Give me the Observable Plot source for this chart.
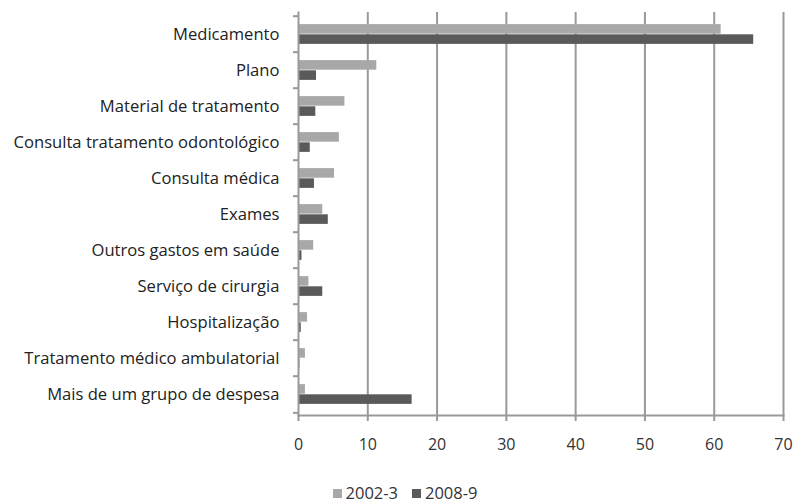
<!DOCTYPE html>
<html>
<head>
<meta charset="utf-8">
<script src="https://cdn.jsdelivr.net/npm/d3@7"></script>
<script src="https://cdn.jsdelivr.net/npm/@observablehq/plot@0.6"></script>
<style>
  html, body { margin: 0; padding: 0; background: #fff; }
  body { width: 795px; height: 504px; overflow: hidden; font-family: "Open Sans", sans-serif; }
  #chart svg { display: block; }
  #legend { position: absolute; left: 0; top: 482px; width: 810px; text-align: center; font-size: 16.5px; line-height: 22px; color: #333; }
  #legend span.item { margin: 0 7px; }
  #legend span.sw { display: inline-block; width: 9px; height: 9px; margin-right: 4px; vertical-align: 1px; }
</style>
</head>
<body>
<div id="chart"></div>
<div id="legend"></div>
<script>
const categories = [
  "Medicamento",
  "Plano",
  "Material de tratamento",
  "Consulta tratamento odontológico",
  "Consulta médica",
  "Exames",
  "Outros gastos em saúde",
  "Serviço de cirurgia",
  "Hospitalização",
  "Tratamento médico ambulatorial",
  "Mais de um grupo de despesa"
];
const series = ["2002-3", "2008-9"];
const values2002 = [61.0, 11.3, 6.7, 5.9, 5.2, 3.5, 2.2, 1.5, 1.3, 1.0, 1.0];
const values2008 = [65.7, 2.6, 2.5, 1.7, 2.3, 4.3, 0.5, 3.5, 0.4, 0.2, 16.4];
const xTicks = [0, 10, 20, 30, 40, 50, 60, 70];
const colors = ["#a8a8a8", "#5a5a5a"];

const d2002 = categories.map((c, i) => ({cat: c, serie: series[0], value: values2002[i]}));
const d2008 = categories.map((c, i) => ({cat: c, serie: series[1], value: values2008[i]}));

const H = 460, mt = 12, mb = 45;
const band = (H - mt - mb) / categories.length;
const barH = 10.2;

const chart = Plot.plot({
  width: 795,
  height: H,
  marginLeft: 298,
  marginRight: 12,
  marginTop: mt,
  marginBottom: mb,
  style: {fontFamily: "'Open Sans', sans-serif", fontSize: "16.6px", color: "#333", background: "#fff"},
  x: {domain: [0, 70], ticks: xTicks},
  y: {domain: categories, padding: 0},
  marks: [
    Plot.gridX(xTicks.slice(1), {stroke: "#999", strokeWidth: 2, strokeOpacity: 1}),
    Plot.barX(d2002, {x: "value", y: "cat", fill: colors[0], insetTop: band/2 - barH, insetBottom: band/2}),
    Plot.barX(d2008, {x: "value", y: "cat", fill: colors[1], insetTop: band/2, insetBottom: band/2 - barH}),
    Plot.frame({anchor: "bottom", stroke: "#999", strokeWidth: 2}),
    Plot.frame({anchor: "left", stroke: "#999", strokeWidth: 2}),
    Plot.axisX({ticks: xTicks, tickSize: 6, tickPadding: 17, stroke: "#999", strokeWidth: 2, fill: "#333", fontSize: 16, label: null}),
    Plot.axisY({tickSize: 0, tickPadding: 19, fill: "#222", fontSize: 16.6, label: null}),
    Plot.axisY({ticks: categories, tickSize: 5, tickFormat: () => "", stroke: "#999", strokeWidth: 2, dy: -band/2, label: null}),
    Plot.axisY({ticks: categories.slice(-1), tickSize: 5, tickFormat: () => "", stroke: "#999", strokeWidth: 2, dy: band/2, label: null})
  ]
});
document.getElementById("chart").appendChild(chart);

const legend = document.getElementById("legend");
series.forEach((s, i) => {
  const item = document.createElement("span");
  item.className = "item";
  const sw = document.createElement("span");
  sw.className = "sw";
  sw.style.background = colors[i];
  item.appendChild(sw);
  item.appendChild(document.createTextNode(s));
  legend.appendChild(item);
});
</script>
</body>
</html>
